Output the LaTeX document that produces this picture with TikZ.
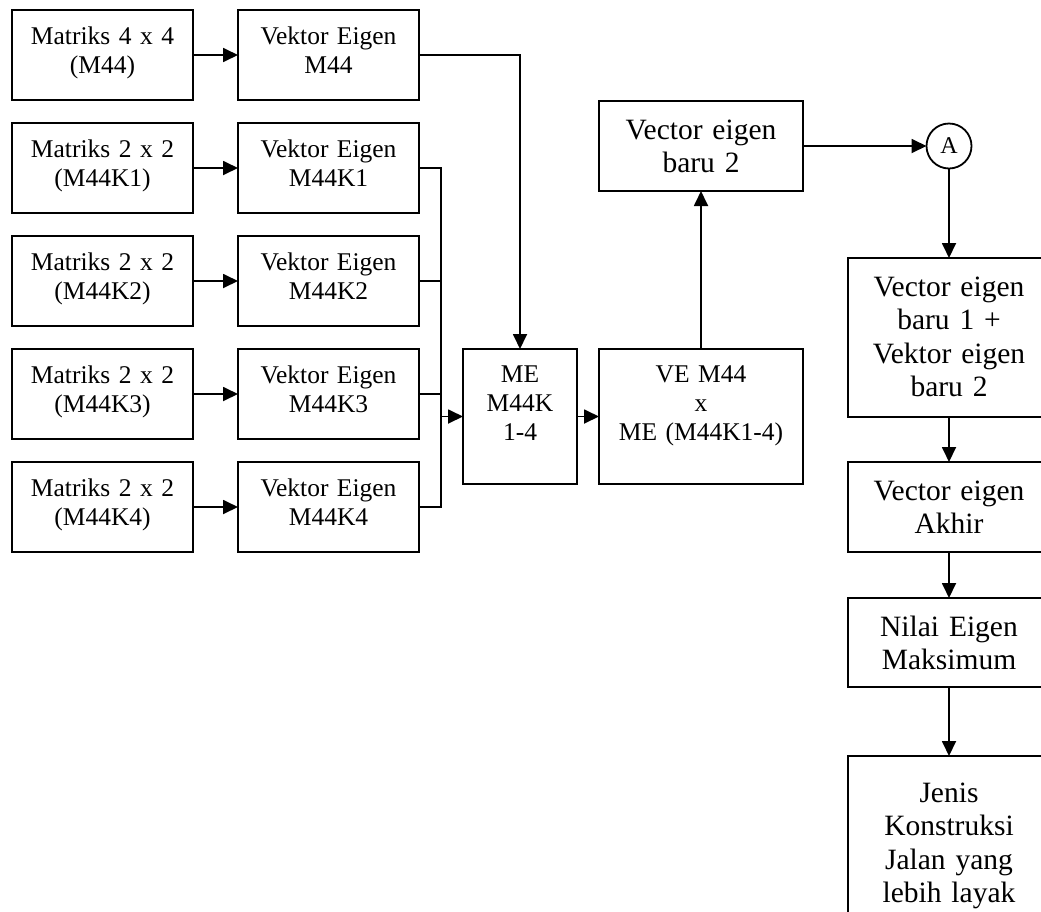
\documentclass[tikz,border=0pt]{standalone}
\usepackage{fontspec}
\setmainfont{Liberation Serif}
\usetikzlibrary{arrows.meta,calc}
\begin{document}
\begin{tikzpicture}[x=1pt,y=-1pt,
  box/.style={draw, line width=1.8pt, inner sep=0pt, outer sep=0pt},
  sbox/.style={box, minimum width=181pt, minimum height=90pt},
  stxt/.style={font=\fontsize{25.5}{29}\selectfont, text width=190pt, align=center, inner sep=0pt, anchor=base},
  btxt/.style={font=\fontsize{29.5}{33.5}\selectfont, text width=200pt, align=center, inner sep=0pt, anchor=base},
  arr/.style={line width=1.8pt, -{Triangle[length=15pt,width=14pt]}},
  ln/.style={line width=1.8pt, line join=miter}]
\useasboundingbox (0,0) rectangle (1041,911);
\clip (0,0) rectangle (1041,911);
% left column
\node[sbox] (L1) at (102.5,55) {};
\node[sbox] (L2) at (102.5,168) {};
\node[sbox] (L3) at (102.5,281) {};
\node[sbox] (L4) at (102.5,394) {};
\node[sbox] (L5) at (102.5,507) {};
\node[stxt] (L1t) at ([yshift=-34pt]L1.north) {Matriks 4 x 4\\(M44)};
\node[stxt] (L2t) at ([yshift=-34pt]L2.north) {Matriks 2 x 2\\(M44K1)};
\node[stxt] (L3t) at ([yshift=-34pt]L3.north) {Matriks 2 x 2\\(M44K2)};
\node[stxt] (L4t) at ([yshift=-34pt]L4.north) {Matriks 2 x 2\\(M44K3)};
\node[stxt] (L5t) at ([yshift=-34pt]L5.north) {Matriks 2 x 2\\(M44K4)};
% middle column
\node[sbox] (M1) at (328.5,55) {};
\node[sbox] (M2) at (328.5,168) {};
\node[sbox] (M3) at (328.5,281) {};
\node[sbox] (M4) at (328.5,394) {};
\node[sbox] (M5) at (328.5,507) {};
\node[stxt] (M1t) at ([yshift=-34pt]M1.north) {Vektor Eigen\\M44};
\node[stxt] (M2t) at ([yshift=-34pt]M2.north) {Vektor Eigen\\M44K1};
\node[stxt] (M3t) at ([yshift=-34pt]M3.north) {Vektor Eigen\\M44K2};
\node[stxt] (M4t) at ([yshift=-34pt]M4.north) {Vektor Eigen\\M44K3};
\node[stxt] (M5t) at ([yshift=-34pt]M5.north) {Vektor Eigen\\M44K4};
% ME and VE
\node[box, minimum width=114pt, minimum height=135pt] (ME) at (520,416.5) {};
\node[stxt] (MEt) at ([yshift=-33pt]ME.north) {ME\\M44K\\1-4};
\node[box, minimum width=204pt, minimum height=135pt] (VE) at (701,416.5) {};
\node[stxt] (VEt) at ([yshift=-33pt]VE.north) {VE M44\\x\\ME (M44K1-4)};
\node[box, minimum width=204pt, minimum height=90pt] (VB2) at (701,146) {};
\node[btxt] (VB2t) at ([yshift=-38pt]VB2.north) {Vector eigen\\baru 2};
% connector circle
\node[draw, circle, line width=1.8pt, minimum size=45pt, inner sep=0pt, outer sep=0pt,
  font=\fontsize{24}{26}\selectfont] (A) at (949,146) {A};
% right column
\node[box, minimum width=202pt, minimum height=159pt] (R1) at (949,337.5) {};
\node[btxt] (R1t) at ([yshift=-38pt]R1.north) {Vector eigen\\baru 1 +\\Vektor eigen\\baru 2};
\node[box, minimum width=202pt, minimum height=90pt] (R2) at (949,507) {};
\node[btxt] (R2t) at ([yshift=-38pt]R2.north) {Vector eigen\\Akhir};
\node[box, minimum width=202pt, minimum height=89pt] (R3) at (949,642.5) {};
\node[btxt] (R3t) at ([yshift=-38pt]R3.north) {Nilai Eigen\\Maksimum};
\node[box, minimum width=202pt, minimum height=200pt] (R4) at (949,856) {};
\node[btxt] (R4t) at ([yshift=-46pt]R4.north) {Jenis\\Konstruksi\\Jalan yang\\lebih layak};
% connectors
\foreach \i in {1,...,5} {\draw[arr] (L\i.east) -- (M\i.west);}
\draw[arr, line join=miter] (M1.east) -| (ME.north);
\coordinate (bus) at (441,416.5);
\foreach \i in {2,...,5} {\draw[ln] (M\i.east) -| (bus);}
\draw[arr] (bus) -- (ME.west);
\draw[arr] (ME.east) -- (VE.west);
\draw[arr] (VE.north) -- (VB2.south);
\draw[arr] (VB2.east) -- (A.west);
\draw[arr] (A.south) -- (R1.north);
\draw[arr] (R1.south) -- (R2.north);
\draw[arr] (R2.south) -- (R3.north);
\draw[arr] (R3.south) -- (R4.north);
\end{tikzpicture}
\end{document}
